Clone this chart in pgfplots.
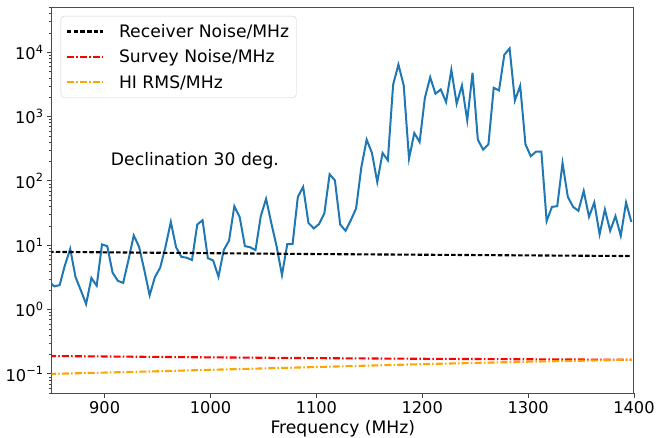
\documentclass[border=0pt]{standalone}
\usepackage{fontspec}
\setmainfont{DejaVu Sans}
\usepackage{pgfplots}
\pgfplotsset{compat=1.18}
\definecolor{mplblue}{HTML}{1F77B4}
\definecolor{mplorange}{HTML}{FFA500}
\newcommand{\tp}[1]{10\textsuperscript{#1}}

\begin{document}
\begin{tikzpicture}
\useasboundingbox (-51.7bp,-44.7bp) rectangle (606.3bp,393.3bp);
\begin{axis}[
  at={(0,0)}, anchor=south west,
  scale only axis, width=582.3bp, height=386bp,
  ymode=log,
  xmin=850, xmax=1400, ymin=0.05, ymax=5e4,
  xtick={900,1000,...,1400},
  ytick={0.1,1,10,100,1000,10000},
  yticklabels={\tp{−1},\tp{0},\tp{1},\tp{2},\tp{3},\tp{4}},
  minor ytick={0.05,0.06,0.07,0.08,0.09,0.2,0.3,0.4,0.5,0.6,0.7,0.8,0.9,
    2,3,4,5,6,7,8,9,20,30,40,50,60,70,80,90,200,300,400,500,600,700,800,900,
    2000,3000,4000,5000,6000,7000,8000,9000,20000,30000,40000,50000},
  tick pos=left, tick align=outside,
  major tick length=4.7bp, minor tick length=2.7bp,
  every tick/.style={black!75, line width=0.9bp},
  minor tick style={line width=0.7bp},
  axis line style={black!70, line width=1bp},
  /pgf/number format/assume math mode=true,
  /pgf/number format/set thousands separator={},
  tick label style={font=\fontsize{16.2bp}{19bp}\selectfont},
  xlabel={Frequency (MHz)},
  xlabel style={font=\fontsize{17.2bp}{20bp}\selectfont},
  legend cell align=left,
  legend style={at={(0.0155,0.9775)}, anchor=north west,
    draw=black!20, rounded corners=3bp, fill=white,
    font=\fontsize{17.2bp}{20bp}\selectfont,
    inner xsep=5bp, inner ysep=6bp, row sep=7bp},
  legend image code/.code={\draw[#1] (0bp,0bp) -- (36bp,0bp); \path (49bp,0bp);},
]
\addplot[mplblue, line width=2bp, forget plot] coordinates {
(847.5,2.7) (852.5,2.3) (857.5,2.4) (862.5,4.9) (867.5,8.8) (872.5,3.2)
(877.5,2.0) (882.5,1.22) (887.5,3.1) (892.5,2.35) (897.5,10.3) (902.5,9.7)
(907.5,3.75) (912.5,2.8) (917.5,2.6) (922.5,5.9) (927.5,14.2) (932.5,9.5)
(937.5,4.1) (942.5,1.67) (947.5,3.2) (952.5,4.5) (957.5,9.5) (962.5,23)
(967.5,9.3) (972.5,6.6) (977.5,6.4) (982.5,5.9) (987.5,21) (992.5,24.5)
(997.5,6.3) (1002.5,5.8) (1007.5,3.25) (1012.5,8.4) (1017.5,11.8) (1022.5,40.5)
(1027.5,27.7) (1032.5,9.7) (1037.5,9.3) (1042.5,8.4) (1047.5,28.4) (1052.5,52.6)
(1057.5,21.9) (1062.5,9.5) (1067.5,3.45) (1072.5,10.4) (1077.5,10.4) (1082.5,56.5)
(1087.5,80.7) (1092.5,22.3) (1097.5,18.3) (1102.5,21.3) (1107.5,31.2) (1112.5,127)
(1117.5,102) (1122.5,21) (1127.5,16.8) (1132.5,24.5) (1137.5,37.3) (1142.5,165)
(1147.5,438) (1152.5,272) (1157.5,96) (1162.5,272) (1167.5,209) (1172.5,3150)
(1177.5,6440) (1182.5,3050) (1187.5,222) (1192.5,555) (1197.5,403) (1202.5,1960)
(1207.5,4090) (1212.5,2265) (1217.5,2640) (1222.5,1680) (1227.5,5330) (1232.5,1585)
(1237.5,3050) (1242.5,873) (1247.5,4790) (1252.5,438) (1257.5,307) (1262.5,371)
(1267.5,2800) (1272.5,2550) (1277.5,9120) (1282.5,11500) (1287.5,1780) (1292.5,3010)
(1297.5,371) (1302.5,242) (1307.5,286) (1312.5,286) (1317.5,23.7) (1322.5,39.5)
(1327.5,40.5) (1332.5,190) (1337.5,56.5) (1342.5,39.5) (1347.5,34.3) (1352.5,70)
(1357.5,27.7) (1362.5,46.2) (1367.5,14.8) (1372.5,36) (1377.5,16.8) (1382.5,28.4)
(1387.5,14) (1392.5,46.2) (1397.5,23.1)
};
\addplot[black, line width=2.1bp, dash pattern=on 4.5bp off 2.2bp] coordinates {
(847.5,7.9) (1100,7.3) (1397.5,6.8)
};
\addlegendentry{Receiver Noise/MHz}
\addplot[red, line width=2.1bp, dash pattern=on 7bp off 2.2bp on 1.5bp off 2.2bp] coordinates {
(847.5,0.190) (1000,0.181) (1100,0.176) (1200,0.172) (1300,0.169) (1397.5,0.166)
};
\addlegendentry{Survey Noise/MHz}
\addplot[mplorange, line width=2.1bp, dash pattern=on 7bp off 2.2bp on 1.5bp off 2.2bp] coordinates {
(847.5,0.100) (950,0.110) (1000,0.116) (1100,0.128) (1200,0.142) (1300,0.155) (1397.5,0.166)
};
\addlegendentry{HI RMS/MHz}
\node[font=\fontsize{17.2bp}{20bp}\selectfont] at (rel axis cs:0.246,0.602) {Declination 30 deg.};
\end{axis}
\end{tikzpicture}
\end{document}
